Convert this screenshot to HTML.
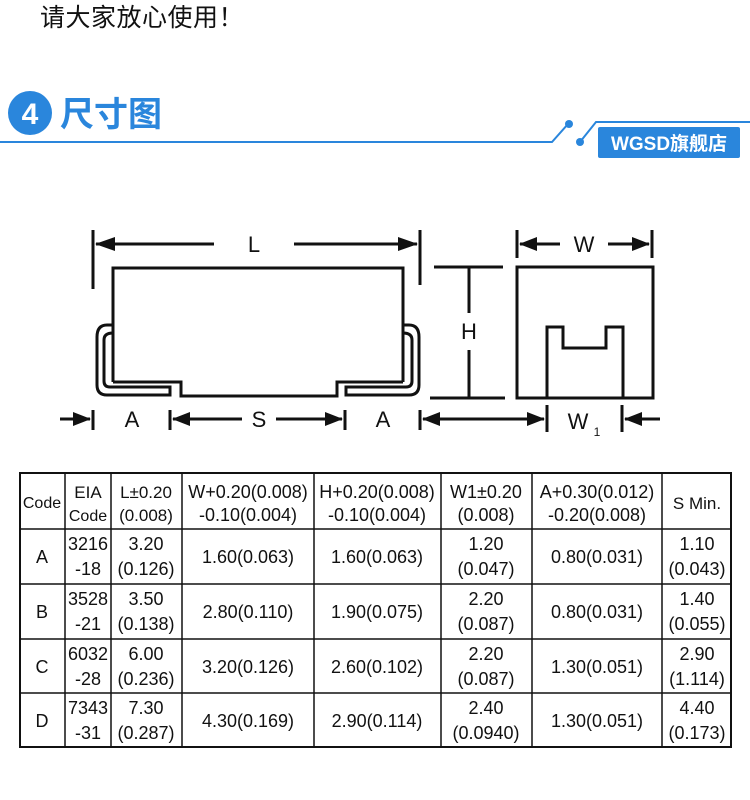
<!DOCTYPE html>
<html><head><meta charset="utf-8"><style>
body{margin:0;width:750px;height:800px;background:#fff;overflow:hidden;position:relative;font-family:"Liberation Sans","Noto Sans CJK SC",sans-serif}
</style></head><body>
<div style="position:absolute;left:40px;top:-2px;font-size:25px;color:#111;font-family:'Noto Sans CJK SC',sans-serif;letter-spacing:0.5px">请大家放心使用！</div>
<svg width="750" height="800" style="position:absolute;left:0;top:0">
<circle cx="30" cy="113" r="22" fill="#2a86dc"/>
<text x="30" y="124" font-size="30" font-weight="bold" fill="#fff" text-anchor="middle" font-family="Liberation Sans">4</text>
<text x="60" y="126" font-size="34" font-weight="bold" fill="#2a86dc" font-family="Noto Sans CJK SC,sans-serif">尺寸图</text>
<polyline points="0,142 552,142 568,124" fill="none" stroke="#2a86dc" stroke-width="2"/>
<circle cx="569" cy="124" r="4" fill="#2a86dc"/>
<polyline points="580,142 596,122 750,122" fill="none" stroke="#2a86dc" stroke-width="2"/>
<circle cx="580" cy="142" r="4" fill="#2a86dc"/>
<rect x="598" y="127" width="142" height="31" rx="2" fill="#2a86dc"/>
<text x="669" y="150" font-size="19" font-weight="bold" fill="#fff" text-anchor="middle" font-family="Liberation Sans,Noto Sans CJK SC,sans-serif">WGSD旗舰店</text>
<g stroke="#111" stroke-width="3" fill="none">
<line x1="93" y1="230" x2="93" y2="289"/><line x1="420" y1="230" x2="420" y2="285"/>
<line x1="96" y1="244" x2="214" y2="244"/><line x1="294" y1="244" x2="417" y2="244"/>
<polyline points="113,382 113,268 403,268 403,382"/>
<polyline points="113,382 181,382 181,396 337,396 337,382 403,382"/>
<path d="M113,325 L107,325 Q97,325 97,337 L97,385 Q97,395 107,395 L170,395 L170,387 L110,387 Q104,387 104,381 L104,340 Q104,333 113,333"/>
<path d="M403,325 L409,325 Q419,325 419,337 L419,385 Q419,395 409,395 L346,395 L346,387 L406,387 Q412,387 412,381 L412,340 Q412,333 403,333"/>
<line x1="93" y1="410" x2="93" y2="430"/><line x1="170" y1="410" x2="170" y2="430"/><line x1="345" y1="410" x2="345" y2="430"/><line x1="420" y1="410" x2="420" y2="430"/>
<line x1="60" y1="419" x2="90" y2="419"/><line x1="173" y1="419" x2="242" y2="419"/><line x1="276" y1="419" x2="342" y2="419"/><line x1="423" y1="419" x2="455" y2="419"/>
<line x1="434" y1="267" x2="503" y2="267"/><line x1="430" y1="398" x2="505" y2="398"/>
<line x1="469" y1="267" x2="469" y2="313"/><line x1="469" y1="350" x2="469" y2="398"/>
<rect x="517" y="267" width="136" height="131"/>
<polyline points="547,398 547,327 563,327 563,348 606,348 606,327 623,327 623,398"/>
<line x1="517" y1="230" x2="517" y2="258"/><line x1="652" y1="230" x2="652" y2="258"/>
<line x1="520" y1="244" x2="560" y2="244"/><line x1="608" y1="244" x2="649" y2="244"/>
<line x1="547" y1="405" x2="547" y2="432"/><line x1="622" y1="405" x2="622" y2="432"/>
<line x1="430" y1="419" x2="544" y2="419"/><line x1="625" y1="419" x2="660" y2="419"/>
</g>
<g fill="#111">
<polygon points="95,244 115,237 115,251"/><polygon points="418,244 398,237 398,251"/>
<polygon points="91,419 73,412 73,426"/><polygon points="172,419 190,412 190,426"/><polygon points="343,419 325,412 325,426"/><polygon points="422,419 440,412 440,426"/>
<polygon points="519,244 537,237 537,251"/><polygon points="650,244 632,237 632,251"/>
<polygon points="545,419 527,412 527,426"/><polygon points="624,419 642,412 642,426"/>
</g>
<g font-family="Liberation Sans" font-size="22" fill="#111" text-anchor="middle">
<text x="254" y="252">L</text><text x="132" y="427">A</text><text x="259" y="427">S</text><text x="383" y="427">A</text>
<text x="469" y="339">H</text><text x="584" y="252">W</text><text x="578" y="429">W</text>
<text x="597" y="436" font-size="12">1</text>
</g>
</svg>
<div style="position:absolute;left:19px;top:472px;width:713px;height:276px;border:2px solid #111;box-sizing:border-box"></div>
<svg width="750" height="800" style="position:absolute;left:0;top:0">
<g stroke="#111" stroke-width="1.5">
<line x1="19" y1="529" x2="732" y2="529"/><line x1="19" y1="584" x2="732" y2="584"/><line x1="19" y1="639" x2="732" y2="639"/><line x1="19" y1="693" x2="732" y2="693"/>
<line x1="65" y1="472" x2="65" y2="748"/><line x1="111" y1="472" x2="111" y2="748"/><line x1="182" y1="472" x2="182" y2="748"/><line x1="314" y1="472" x2="314" y2="748"/><line x1="441" y1="472" x2="441" y2="748"/><line x1="532" y1="472" x2="532" y2="748"/><line x1="662" y1="472" x2="662" y2="748"/>
</g>
<g font-family="Liberation Sans,Noto Sans CJK SC,sans-serif" font-size="18" fill="#111" text-anchor="middle">
<text x="42" y="508" font-size="16">Code</text>
<text x="88" y="498" font-size="17">EIA</text><text x="88" y="521" font-size="16">Code</text>
<text x="146" y="498" font-size="17">L±0.20</text><text x="146" y="521" font-size="17">(0.008)</text>
<text x="248" y="498">W+0.20(0.008)</text><text x="248" y="521">-0.10(0.004)</text>
<text x="377" y="498">H+0.20(0.008)</text><text x="377" y="521">-0.10(0.004)</text>
<text x="486" y="498">W1±0.20</text><text x="486" y="521">(0.008)</text>
<text x="597" y="498">A+0.30(0.012)</text><text x="597" y="521">-0.20(0.008)</text>
<text x="697" y="509" font-size="17">S Min.</text>
<text x="42" y="563">A</text><text x="88" y="550">3216</text><text x="88" y="575">-18</text><text x="146" y="550">3.20</text><text x="146" y="575">(0.126)</text>
<text x="248" y="563">1.60(0.063)</text><text x="377" y="563">1.60(0.063)</text><text x="486" y="550">1.20</text><text x="486" y="575">(0.047)</text><text x="597" y="563">0.80(0.031)</text><text x="697" y="550">1.10</text><text x="697" y="575">(0.043)</text>
<text x="42" y="618">B</text><text x="88" y="605">3528</text><text x="88" y="630">-21</text><text x="146" y="605">3.50</text><text x="146" y="630">(0.138)</text>
<text x="248" y="618">2.80(0.110)</text><text x="377" y="618">1.90(0.075)</text><text x="486" y="605">2.20</text><text x="486" y="630">(0.087)</text><text x="597" y="618">0.80(0.031)</text><text x="697" y="605">1.40</text><text x="697" y="630">(0.055)</text>
<text x="42" y="673">C</text><text x="88" y="660">6032</text><text x="88" y="685">-28</text><text x="146" y="660">6.00</text><text x="146" y="685">(0.236)</text>
<text x="248" y="673">3.20(0.126)</text><text x="377" y="673">2.60(0.102)</text><text x="486" y="660">2.20</text><text x="486" y="685">(0.087)</text><text x="597" y="673">1.30(0.051)</text><text x="697" y="660">2.90</text><text x="697" y="685">(1.114)</text>
<text x="42" y="727">D</text><text x="88" y="714">7343</text><text x="88" y="739">-31</text><text x="146" y="714">7.30</text><text x="146" y="739">(0.287)</text>
<text x="248" y="727">4.30(0.169)</text><text x="377" y="727">2.90(0.114)</text><text x="486" y="714">2.40</text><text x="486" y="739">(0.0940)</text><text x="597" y="727">1.30(0.051)</text><text x="697" y="714">4.40</text><text x="697" y="739">(0.173)</text>
</g>
</svg>
</body></html>
